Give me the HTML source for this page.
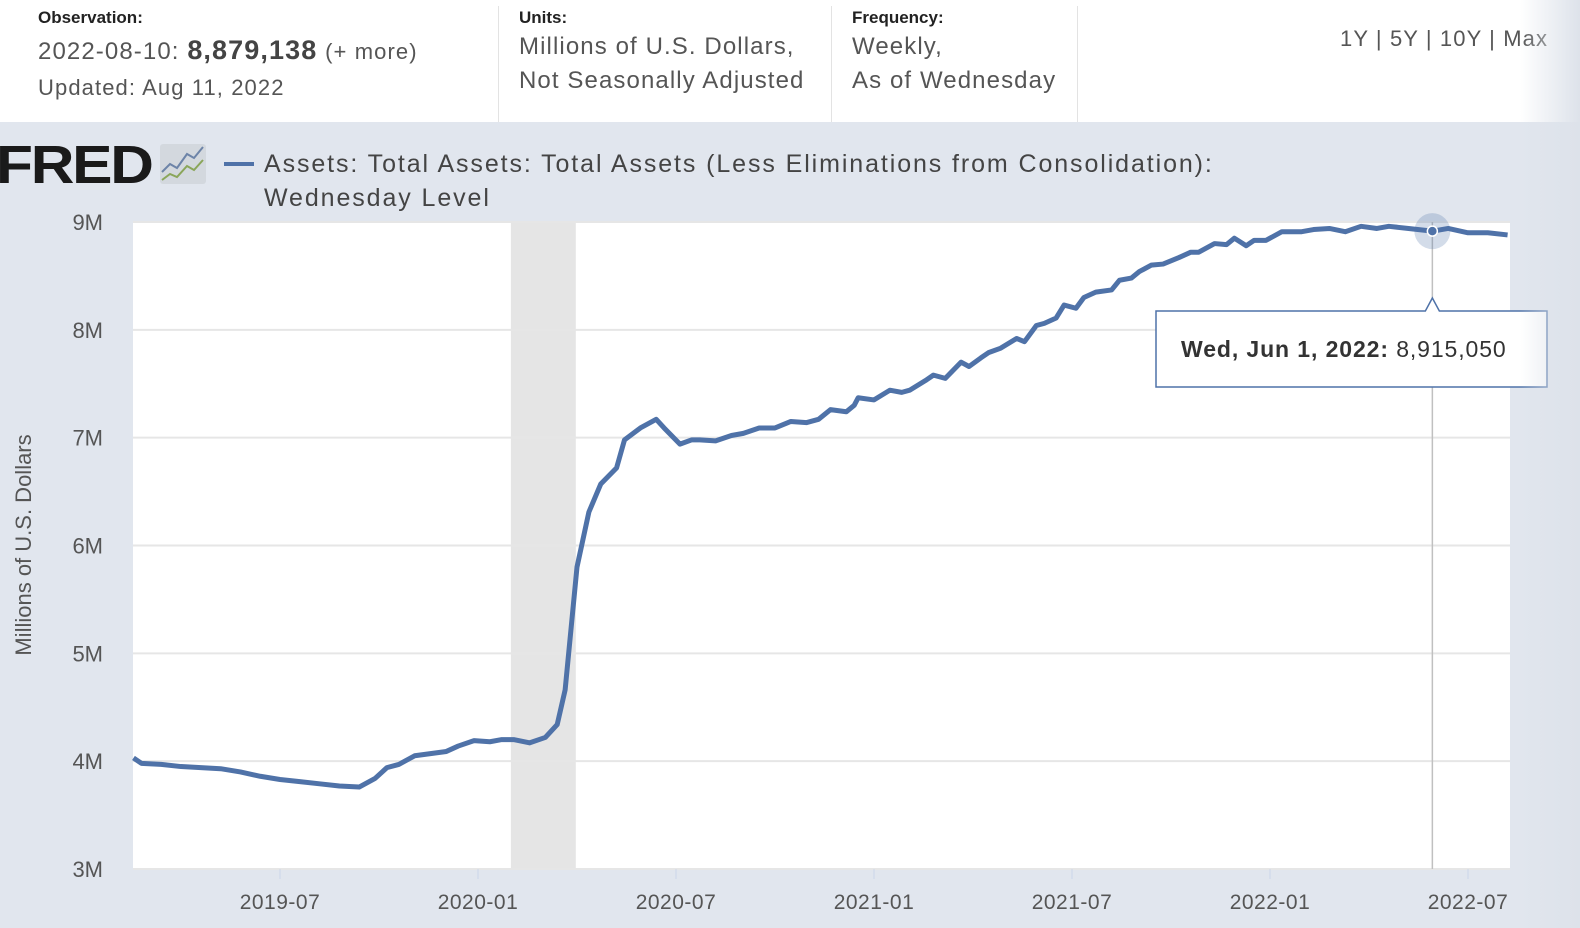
<!DOCTYPE html>
<html><head><meta charset="utf-8">
<style>
body{margin:0;width:1580px;height:928px;overflow:hidden;background:#e1e6ee;font-family:"Liberation Sans",sans-serif;color:#444;position:relative}
.hdr{position:absolute;left:0;top:0;width:1580px;height:122px;background:#fff}
.lbl{position:absolute;font-weight:bold;font-size:17px;color:#222}
.val{position:absolute;font-size:24px;color:#555;letter-spacing:1.1px;line-height:34px}
.sep{position:absolute;top:6px;width:1px;height:116px;background:#e3e3e3}
.fade{position:absolute;right:0;top:0;width:60px;height:928px;background:linear-gradient(to right,rgba(225,230,238,0),#dde2ea)}
</style></head><body>
<div class="hdr">
 <div class="lbl" style="left:38px;top:8px">Observation:</div>
 <div class="val" style="left:38px;top:33px">2022-08-10: <b style="color:#444;font-size:27px">8,879,138</b> <span style="font-size:22px">(+ more)</span></div>
 <div class="val" style="left:38px;top:71px;font-size:22px">Updated: Aug 11, 2022</div>
 <div class="sep" style="left:498px"></div>
 <div class="lbl" style="left:519px;top:8px">Units:</div>
 <div class="val" style="left:519px;top:30px">Millions of U.S. Dollars,<br>Not Seasonally Adjusted</div>
 <div class="sep" style="left:831px"></div>
 <div class="lbl" style="left:852px;top:8px">Frequency:</div>
 <div class="val" style="left:852px;top:30px">Weekly,<br>As of Wednesday</div>
 <div class="sep" style="left:1077px"></div>
 <div class="val" style="left:1340px;top:22px;font-size:22px">1Y | 5Y | 10Y | Max</div>
</div>
<div style="position:absolute;left:-4px;top:134px;font-size:54px;font-weight:900;color:#1a1a1a;letter-spacing:-2px;transform:scaleX(1.12);transform-origin:left top;font-family:'Liberation Sans',sans-serif">FRED</div>
<svg style="position:absolute;left:160px;top:144px" width="46" height="40"><rect width="46" height="40" rx="3" fill="#d3d8de"/><polyline points="2,28 10,20 17,24 27,10 34,14 43,3" fill="none" stroke="#6d84a8" stroke-width="2"/><polyline points="2,36 10,30 17,33 27,22 34,26 43,16" fill="none" stroke="#8aa65a" stroke-width="2"/></svg>
<div style="position:absolute;left:224px;top:162px;width:30px;height:4px;background:#4f72a8"></div>
<div style="position:absolute;left:264px;top:147px;font-size:25px;letter-spacing:1.9px;line-height:34px;color:#444">Assets: Total Assets: Total Assets (Less Eliminations from Consolidation):<br>Wednesday Level</div>
<svg id="chart" style="position:absolute;left:0;top:0" width="1580" height="928"></svg>
<div class="fade"></div>
<script>
const yTicks=[3,4,5,6,7,8,9];
const xTickLabels=["2019-07","2020-01","2020-07","2021-01","2021-07","2022-01","2022-07"];
const xTickTimes=[2019.5,2020.0,2020.5,2021.0,2021.5,2022.0,2022.5];
const recession=[2020.083,2020.247];
const times=[2019.13,2019.15,2019.20,2019.25,2019.30,2019.35,2019.40,2019.45,2019.50,2019.55,2019.60,2019.65,2019.70,2019.74,2019.77,2019.80,2019.84,2019.88,2019.92,2019.95,2019.99,2020.03,2020.06,2020.09,2020.13,2020.17,2020.20,2020.22,2020.25,2020.28,2020.31,2020.35,2020.37,2020.41,2020.45,2020.47,2020.51,2020.54,2020.56,2020.60,2020.64,2020.67,2020.71,2020.75,2020.79,2020.83,2020.86,2020.89,2020.93,2020.95,2020.96,2021.00,2021.04,2021.07,2021.09,2021.13,2021.15,2021.18,2021.22,2021.24,2021.27,2021.29,2021.32,2021.36,2021.38,2021.41,2021.43,2021.46,2021.48,2021.51,2021.53,2021.56,2021.60,2021.62,2021.65,2021.67,2021.70,2021.73,2021.77,2021.80,2021.82,2021.86,2021.89,2021.91,2021.94,2021.96,2021.99,2022.03,2022.08,2022.11,2022.15,2022.19,2022.23,2022.27,2022.30,2022.35,2022.41,2022.45,2022.50,2022.55,2022.60];
const values=[4.03,3.98,3.97,3.95,3.94,3.93,3.90,3.86,3.83,3.81,3.79,3.77,3.76,3.84,3.94,3.97,4.05,4.07,4.09,4.14,4.19,4.18,4.20,4.20,4.17,4.22,4.34,4.66,5.80,6.31,6.57,6.72,6.98,7.09,7.17,7.09,6.94,6.98,6.98,6.97,7.02,7.04,7.09,7.09,7.15,7.14,7.17,7.26,7.24,7.30,7.37,7.35,7.44,7.42,7.44,7.53,7.58,7.55,7.70,7.66,7.74,7.79,7.83,7.92,7.89,8.04,8.06,8.11,8.23,8.20,8.30,8.35,8.37,8.46,8.48,8.54,8.60,8.61,8.67,8.72,8.72,8.80,8.79,8.85,8.78,8.83,8.83,8.91,8.91,8.93,8.94,8.91,8.96,8.94,8.96,8.94,8.915,8.94,8.90,8.90,8.88];
const hoverIndex=96;
const hoverLabel="Wed, Jun 1, 2022:";
const hoverValue="8,915,050";
const L=133,R=1510,T=222,B=869;
const xs=t=>478+(t-2020)*396;
const ys=v=>B-(v-3)/(9-3)*(B-T);
const svg=document.getElementById('chart');const NS='http://www.w3.org/2000/svg';
function mk(tag,a){const e=document.createElementNS(NS,tag);for(const k in a)e.setAttribute(k,a[k]);svg.appendChild(e);return e;}
const bg=mk('rect',{x:L,y:T,width:R-L,height:B-T,fill:'#fff'});


const rec=mk('rect',{x:xs(recession[0]),y:T,width:xs(recession[1])-xs(recession[0]),height:B-T,fill:'#e5e5e5'});


yTicks.forEach(v=>{
 const g=mk('line',{x1:L,x2:R,y1:ys(v),y2:ys(v),stroke:'#e6e6e6','stroke-width':2});
 
 
 const t=mk('text',{x:103,y:ys(v)+8,'text-anchor':'end','font-size':22,fill:'#555','font-family':'Liberation Sans, sans-serif'});
 t.textContent=v+'M';
 
 
});
xTickTimes.forEach((tt,i)=>{
 const tk=mk('line',{x1:xs(tt),x2:xs(tt),y1:B,y2:B+10,stroke:'#ccd6eb','stroke-width':1});
 
 
 const t=mk('text',{x:xs(tt),y:909,'text-anchor':'middle','font-size':21,fill:'#555','font-family':'Liberation Sans, sans-serif','letter-spacing':'0.5'});
 t.textContent=xTickLabels[i];
 
 
});
const ya=mk('text',{x:0,y:0,transform:'translate(31,545) rotate(-90)','text-anchor':'middle','font-size':22,fill:'#555','font-family':'Liberation Sans, sans-serif'});
ya.textContent='Millions of U.S. Dollars';


const hx=xs(times[hoverIndex]),hy=ys(values[hoverIndex]);
const cl=mk('line',{x1:hx,x2:hx,y1:T,y2:B,stroke:'#c0c0c0','stroke-width':1.5});


const line=mk('polyline',{points:times.map((t,i)=>xs(t)+','+ys(values[i])).join(' '),fill:'none',stroke:'#4f72a8','stroke-width':5,'stroke-linejoin':'round'});


const halo=mk('circle',{cx:hx,cy:hy,r:18,fill:'rgba(79,114,168,0.25)'});


const dot=mk('circle',{cx:hx,cy:hy,r:5,fill:'#4f72a8',stroke:'#fff','stroke-width':1.5});


const tip=mk('path',{d:`M1156,311 L${hx-7},311 L${hx},298 L${hx+7},311 L1547,311 L1547,387 L1156,387 Z`,fill:'#fff',stroke:'#4f72a8','stroke-width':1.5});


const tt=mk('text',{x:1181,y:357,'font-size':23,fill:'#333','font-family':'Liberation Sans, sans-serif','letter-spacing':'0.9'});


const b=document.createElementNS(NS,'tspan');b.setAttribute('font-weight','bold');b.textContent=hoverLabel+' ';tt.appendChild(b);
const v=document.createElementNS(NS,'tspan');v.textContent=hoverValue;tt.appendChild(v);
</script>
</body></html>
